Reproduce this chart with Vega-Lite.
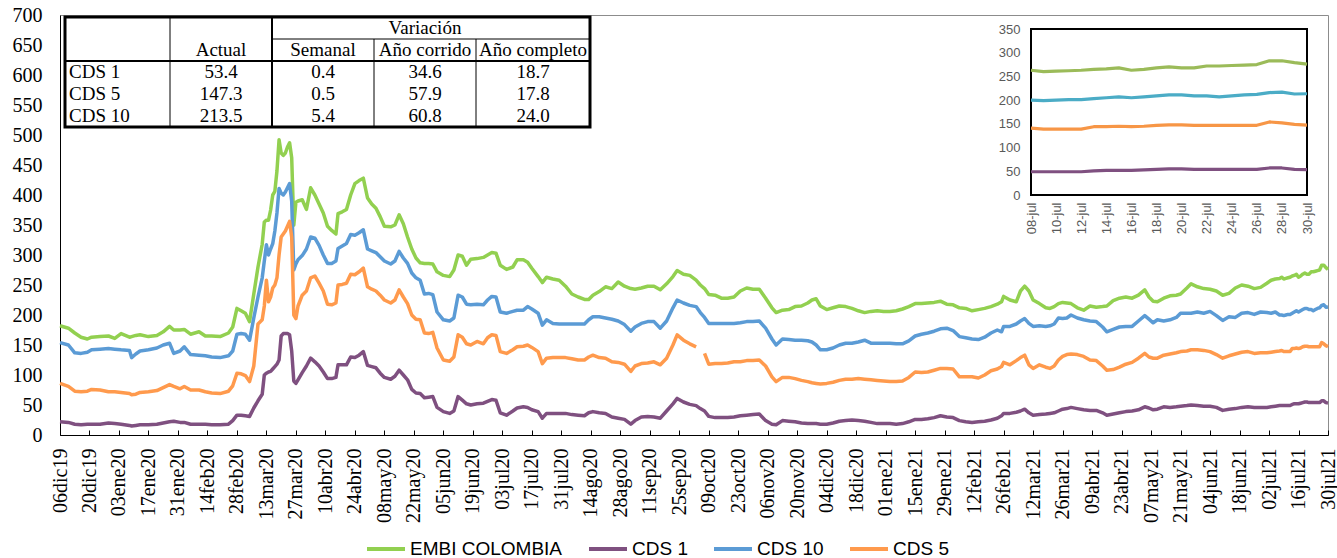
{
  "$schema": "https://vega.github.io/schema/vega-lite/v6.json",
  "autosize": {"type": "none"},
  "width": 1268,
  "height": 420,
  "padding": {"left": 60, "top": 15, "right": 9, "bottom": 123},
  "background": "white",
  "config": {"view": {"stroke": "#8c8c8c", "strokeWidth": 1}},
  "datasets": {
    "series": [
      {"fecha":"2019-12-06","EMBI COLOMBIA":182,"CDS 1":22,"CDS 10":154,"CDS 5":86},
      {"fecha":"2019-12-10","EMBI COLOMBIA":178,"CDS 1":21,"CDS 10":150,"CDS 5":81},
      {"fecha":"2019-12-13","EMBI COLOMBIA":170,"CDS 1":18,"CDS 10":137,"CDS 5":73},
      {"fecha":"2019-12-16","EMBI COLOMBIA":163,"CDS 1":17,"CDS 10":136,"CDS 5":72},
      {"fecha":"2019-12-19","EMBI COLOMBIA":160,"CDS 1":18,"CDS 10":138,"CDS 5":73},
      {"fecha":"2019-12-21","EMBI COLOMBIA":163,"CDS 1":18,"CDS 10":142,"CDS 5":76},
      {"fecha":"2019-12-25","EMBI COLOMBIA":164,"CDS 1":18,"CDS 10":143,"CDS 5":75},
      {"fecha":"2019-12-29","EMBI COLOMBIA":165,"CDS 1":20,"CDS 10":144,"CDS 5":72},
      {"fecha":"2020-01-01","EMBI COLOMBIA":161,"CDS 1":19,"CDS 10":143,"CDS 5":72},
      {"fecha":"2020-01-04","EMBI COLOMBIA":169,"CDS 1":18,"CDS 10":142,"CDS 5":71},
      {"fecha":"2020-01-08","EMBI COLOMBIA":163,"CDS 1":16,"CDS 10":141,"CDS 5":69},
      {"fecha":"2020-01-09","EMBI COLOMBIA":164,"CDS 1":15,"CDS 10":129,"CDS 5":67},
      {"fecha":"2020-01-11","EMBI COLOMBIA":166,"CDS 1":16,"CDS 10":135,"CDS 5":68},
      {"fecha":"2020-01-13","EMBI COLOMBIA":167,"CDS 1":17,"CDS 10":140,"CDS 5":71},
      {"fecha":"2020-01-17","EMBI COLOMBIA":164,"CDS 1":17,"CDS 10":142,"CDS 5":72},
      {"fecha":"2020-01-21","EMBI COLOMBIA":166,"CDS 1":18,"CDS 10":145,"CDS 5":74},
      {"fecha":"2020-01-24","EMBI COLOMBIA":172,"CDS 1":20,"CDS 10":150,"CDS 5":79},
      {"fecha":"2020-01-27","EMBI COLOMBIA":181,"CDS 1":22,"CDS 10":153,"CDS 5":84},
      {"fecha":"2020-01-29","EMBI COLOMBIA":175,"CDS 1":23,"CDS 10":136,"CDS 5":81},
      {"fecha":"2020-02-01","EMBI COLOMBIA":175,"CDS 1":21,"CDS 10":140,"CDS 5":77},
      {"fecha":"2020-02-03","EMBI COLOMBIA":176,"CDS 1":21,"CDS 10":147,"CDS 5":81},
      {"fecha":"2020-02-06","EMBI COLOMBIA":168,"CDS 1":18,"CDS 10":134,"CDS 5":75},
      {"fecha":"2020-02-10","EMBI COLOMBIA":172,"CDS 1":18,"CDS 10":133,"CDS 5":75},
      {"fecha":"2020-02-13","EMBI COLOMBIA":165,"CDS 1":18,"CDS 10":132,"CDS 5":72},
      {"fecha":"2020-02-16","EMBI COLOMBIA":165,"CDS 1":17,"CDS 10":130,"CDS 5":70},
      {"fecha":"2020-02-20","EMBI COLOMBIA":164,"CDS 1":17,"CDS 10":129,"CDS 5":69},
      {"fecha":"2020-02-24","EMBI COLOMBIA":170,"CDS 1":18,"CDS 10":132,"CDS 5":73},
      {"fecha":"2020-02-26","EMBI COLOMBIA":180,"CDS 1":24,"CDS 10":140,"CDS 5":82},
      {"fecha":"2020-02-28","EMBI COLOMBIA":211,"CDS 1":33,"CDS 10":168,"CDS 5":103},
      {"fecha":"2020-03-01","EMBI COLOMBIA":207,"CDS 1":33,"CDS 10":169,"CDS 5":102},
      {"fecha":"2020-03-03","EMBI COLOMBIA":203,"CDS 1":32,"CDS 10":168,"CDS 5":99},
      {"fecha":"2020-03-05","EMBI COLOMBIA":189,"CDS 1":31,"CDS 10":158,"CDS 5":89},
      {"fecha":"2020-03-07","EMBI COLOMBIA":235,"CDS 1":45,"CDS 10":195,"CDS 5":115},
      {"fecha":"2020-03-09","EMBI COLOMBIA":280,"CDS 1":57,"CDS 10":230,"CDS 5":185},
      {"fecha":"2020-03-11","EMBI COLOMBIA":318,"CDS 1":68,"CDS 10":262,"CDS 5":192},
      {"fecha":"2020-03-12","EMBI COLOMBIA":355,"CDS 1":100,"CDS 10":290,"CDS 5":215},
      {"fecha":"2020-03-13","EMBI COLOMBIA":358,"CDS 1":103,"CDS 10":317,"CDS 5":258},
      {"fecha":"2020-03-14","EMBI COLOMBIA":358,"CDS 1":105,"CDS 10":300,"CDS 5":222},
      {"fecha":"2020-03-15","EMBI COLOMBIA":375,"CDS 1":106,"CDS 10":310,"CDS 5":230},
      {"fecha":"2020-03-16","EMBI COLOMBIA":400,"CDS 1":110,"CDS 10":319,"CDS 5":245},
      {"fecha":"2020-03-17","EMBI COLOMBIA":406,"CDS 1":114,"CDS 10":340,"CDS 5":250},
      {"fecha":"2020-03-18","EMBI COLOMBIA":440,"CDS 1":118,"CDS 10":370,"CDS 5":262},
      {"fecha":"2020-03-19","EMBI COLOMBIA":492,"CDS 1":125,"CDS 10":411,"CDS 5":300},
      {"fecha":"2020-03-20","EMBI COLOMBIA":470,"CDS 1":165,"CDS 10":403,"CDS 5":330},
      {"fecha":"2020-03-21","EMBI COLOMBIA":466,"CDS 1":169,"CDS 10":400,"CDS 5":335},
      {"fecha":"2020-03-22","EMBI COLOMBIA":470,"CDS 1":169,"CDS 10":405,"CDS 5":340},
      {"fecha":"2020-03-23","EMBI COLOMBIA":480,"CDS 1":169,"CDS 10":412,"CDS 5":348},
      {"fecha":"2020-03-24","EMBI COLOMBIA":487,"CDS 1":167,"CDS 10":419,"CDS 5":356},
      {"fecha":"2020-03-25","EMBI COLOMBIA":462,"CDS 1":140,"CDS 10":390,"CDS 5":330},
      {"fecha":"2020-03-26","EMBI COLOMBIA":350,"CDS 1":90,"CDS 10":275,"CDS 5":200},
      {"fecha":"2020-03-27","EMBI COLOMBIA":388,"CDS 1":86,"CDS 10":285,"CDS 5":194},
      {"fecha":"2020-03-28","EMBI COLOMBIA":390,"CDS 1":92,"CDS 10":292,"CDS 5":215},
      {"fecha":"2020-03-30","EMBI COLOMBIA":392,"CDS 1":104,"CDS 10":299,"CDS 5":233},
      {"fecha":"2020-04-01","EMBI COLOMBIA":376,"CDS 1":115,"CDS 10":310,"CDS 5":240},
      {"fecha":"2020-04-03","EMBI COLOMBIA":412,"CDS 1":128,"CDS 10":330,"CDS 5":262},
      {"fecha":"2020-04-05","EMBI COLOMBIA":400,"CDS 1":122,"CDS 10":328,"CDS 5":265},
      {"fecha":"2020-04-07","EMBI COLOMBIA":385,"CDS 1":115,"CDS 10":316,"CDS 5":253},
      {"fecha":"2020-04-09","EMBI COLOMBIA":370,"CDS 1":105,"CDS 10":300,"CDS 5":240},
      {"fecha":"2020-04-11","EMBI COLOMBIA":348,"CDS 1":94,"CDS 10":286,"CDS 5":218},
      {"fecha":"2020-04-13","EMBI COLOMBIA":341,"CDS 1":94,"CDS 10":286,"CDS 5":217},
      {"fecha":"2020-04-15","EMBI COLOMBIA":335,"CDS 1":96,"CDS 10":290,"CDS 5":220},
      {"fecha":"2020-04-16","EMBI COLOMBIA":369,"CDS 1":117,"CDS 10":311,"CDS 5":250},
      {"fecha":"2020-04-18","EMBI COLOMBIA":372,"CDS 1":117,"CDS 10":315,"CDS 5":251},
      {"fecha":"2020-04-20","EMBI COLOMBIA":376,"CDS 1":117,"CDS 10":319,"CDS 5":253},
      {"fecha":"2020-04-22","EMBI COLOMBIA":400,"CDS 1":130,"CDS 10":334,"CDS 5":268},
      {"fecha":"2020-04-24","EMBI COLOMBIA":419,"CDS 1":129,"CDS 10":333,"CDS 5":267},
      {"fecha":"2020-04-26","EMBI COLOMBIA":424,"CDS 1":133,"CDS 10":337,"CDS 5":272},
      {"fecha":"2020-04-28","EMBI COLOMBIA":428,"CDS 1":139,"CDS 10":342,"CDS 5":278},
      {"fecha":"2020-04-30","EMBI COLOMBIA":395,"CDS 1":116,"CDS 10":310,"CDS 5":247},
      {"fecha":"2020-05-02","EMBI COLOMBIA":385,"CDS 1":114,"CDS 10":307,"CDS 5":243},
      {"fecha":"2020-05-04","EMBI COLOMBIA":378,"CDS 1":112,"CDS 10":304,"CDS 5":240},
      {"fecha":"2020-05-06","EMBI COLOMBIA":364,"CDS 1":103,"CDS 10":297,"CDS 5":233},
      {"fecha":"2020-05-08","EMBI COLOMBIA":348,"CDS 1":96,"CDS 10":290,"CDS 5":225},
      {"fecha":"2020-05-11","EMBI COLOMBIA":347,"CDS 1":93,"CDS 10":285,"CDS 5":220},
      {"fecha":"2020-05-13","EMBI COLOMBIA":350,"CDS 1":98,"CDS 10":290,"CDS 5":225},
      {"fecha":"2020-05-15","EMBI COLOMBIA":367,"CDS 1":108,"CDS 10":306,"CDS 5":242},
      {"fecha":"2020-05-17","EMBI COLOMBIA":352,"CDS 1":100,"CDS 10":295,"CDS 5":230},
      {"fecha":"2020-05-19","EMBI COLOMBIA":330,"CDS 1":92,"CDS 10":286,"CDS 5":219},
      {"fecha":"2020-05-21","EMBI COLOMBIA":310,"CDS 1":76,"CDS 10":270,"CDS 5":200},
      {"fecha":"2020-05-23","EMBI COLOMBIA":295,"CDS 1":70,"CDS 10":262,"CDS 5":193},
      {"fecha":"2020-05-25","EMBI COLOMBIA":287,"CDS 1":69,"CDS 10":258,"CDS 5":192},
      {"fecha":"2020-05-27","EMBI COLOMBIA":286,"CDS 1":62,"CDS 10":235,"CDS 5":170},
      {"fecha":"2020-05-29","EMBI COLOMBIA":286,"CDS 1":63,"CDS 10":236,"CDS 5":169},
      {"fecha":"2020-05-31","EMBI COLOMBIA":285,"CDS 1":64,"CDS 10":234,"CDS 5":171},
      {"fecha":"2020-06-02","EMBI COLOMBIA":272,"CDS 1":46,"CDS 10":205,"CDS 5":145},
      {"fecha":"2020-06-05","EMBI COLOMBIA":266,"CDS 1":39,"CDS 10":192,"CDS 5":125},
      {"fecha":"2020-06-08","EMBI COLOMBIA":264,"CDS 1":36,"CDS 10":190,"CDS 5":123},
      {"fecha":"2020-06-10","EMBI COLOMBIA":275,"CDS 1":40,"CDS 10":195,"CDS 5":130},
      {"fecha":"2020-06-12","EMBI COLOMBIA":300,"CDS 1":64,"CDS 10":233,"CDS 5":167},
      {"fecha":"2020-06-14","EMBI COLOMBIA":298,"CDS 1":58,"CDS 10":230,"CDS 5":163},
      {"fecha":"2020-06-16","EMBI COLOMBIA":283,"CDS 1":52,"CDS 10":218,"CDS 5":152},
      {"fecha":"2020-06-18","EMBI COLOMBIA":293,"CDS 1":50,"CDS 10":217,"CDS 5":150},
      {"fecha":"2020-06-21","EMBI COLOMBIA":294,"CDS 1":52,"CDS 10":218,"CDS 5":156},
      {"fecha":"2020-06-24","EMBI COLOMBIA":296,"CDS 1":53,"CDS 10":217,"CDS 5":152},
      {"fecha":"2020-06-26","EMBI COLOMBIA":300,"CDS 1":56,"CDS 10":225,"CDS 5":162},
      {"fecha":"2020-06-28","EMBI COLOMBIA":304,"CDS 1":59,"CDS 10":231,"CDS 5":167},
      {"fecha":"2020-06-30","EMBI COLOMBIA":303,"CDS 1":58,"CDS 10":230,"CDS 5":166},
      {"fecha":"2020-07-02","EMBI COLOMBIA":283,"CDS 1":37,"CDS 10":205,"CDS 5":139},
      {"fecha":"2020-07-05","EMBI COLOMBIA":276,"CDS 1":33,"CDS 10":203,"CDS 5":136},
      {"fecha":"2020-07-08","EMBI COLOMBIA":280,"CDS 1":40,"CDS 10":206,"CDS 5":142},
      {"fecha":"2020-07-10","EMBI COLOMBIA":292,"CDS 1":45,"CDS 10":208,"CDS 5":147},
      {"fecha":"2020-07-13","EMBI COLOMBIA":292,"CDS 1":47,"CDS 10":208,"CDS 5":148},
      {"fecha":"2020-07-15","EMBI COLOMBIA":288,"CDS 1":46,"CDS 10":214,"CDS 5":150},
      {"fecha":"2020-07-17","EMBI COLOMBIA":278,"CDS 1":42,"CDS 10":210,"CDS 5":146},
      {"fecha":"2020-07-20","EMBI COLOMBIA":264,"CDS 1":39,"CDS 10":203,"CDS 5":139},
      {"fecha":"2020-07-22","EMBI COLOMBIA":254,"CDS 1":28,"CDS 10":183,"CDS 5":119},
      {"fecha":"2020-07-24","EMBI COLOMBIA":263,"CDS 1":36,"CDS 10":192,"CDS 5":128},
      {"fecha":"2020-07-27","EMBI COLOMBIA":260,"CDS 1":36,"CDS 10":186,"CDS 5":129},
      {"fecha":"2020-07-30","EMBI COLOMBIA":258,"CDS 1":36,"CDS 10":185,"CDS 5":129},
      {"fecha":"2020-08-02","EMBI COLOMBIA":248,"CDS 1":36,"CDS 10":185,"CDS 5":129},
      {"fecha":"2020-08-05","EMBI COLOMBIA":235,"CDS 1":34,"CDS 10":185,"CDS 5":127},
      {"fecha":"2020-08-08","EMBI COLOMBIA":230,"CDS 1":33,"CDS 10":185,"CDS 5":125},
      {"fecha":"2020-08-11","EMBI COLOMBIA":226,"CDS 1":32,"CDS 10":185,"CDS 5":125},
      {"fecha":"2020-08-13","EMBI COLOMBIA":226,"CDS 1":37,"CDS 10":192,"CDS 5":130},
      {"fecha":"2020-08-15","EMBI COLOMBIA":233,"CDS 1":39,"CDS 10":197,"CDS 5":133},
      {"fecha":"2020-08-18","EMBI COLOMBIA":239,"CDS 1":37,"CDS 10":197,"CDS 5":129},
      {"fecha":"2020-08-21","EMBI COLOMBIA":247,"CDS 1":36,"CDS 10":195,"CDS 5":128},
      {"fecha":"2020-08-24","EMBI COLOMBIA":244,"CDS 1":30,"CDS 10":193,"CDS 5":122},
      {"fecha":"2020-08-27","EMBI COLOMBIA":255,"CDS 1":28,"CDS 10":190,"CDS 5":121},
      {"fecha":"2020-08-30","EMBI COLOMBIA":248,"CDS 1":26,"CDS 10":184,"CDS 5":118},
      {"fecha":"2020-09-02","EMBI COLOMBIA":244,"CDS 1":18,"CDS 10":173,"CDS 5":106},
      {"fecha":"2020-09-04","EMBI COLOMBIA":243,"CDS 1":24,"CDS 10":180,"CDS 5":115},
      {"fecha":"2020-09-07","EMBI COLOMBIA":245,"CDS 1":30,"CDS 10":186,"CDS 5":119},
      {"fecha":"2020-09-10","EMBI COLOMBIA":248,"CDS 1":31,"CDS 10":189,"CDS 5":120},
      {"fecha":"2020-09-13","EMBI COLOMBIA":248,"CDS 1":30,"CDS 10":189,"CDS 5":122},
      {"fecha":"2020-09-16","EMBI COLOMBIA":242,"CDS 1":28,"CDS 10":178,"CDS 5":117},
      {"fecha":"2020-09-19","EMBI COLOMBIA":252,"CDS 1":40,"CDS 10":190,"CDS 5":128},
      {"fecha":"2020-09-22","EMBI COLOMBIA":264,"CDS 1":52,"CDS 10":212,"CDS 5":150},
      {"fecha":"2020-09-24","EMBI COLOMBIA":274,"CDS 1":61,"CDS 10":225,"CDS 5":167},
      {"fecha":"2020-09-27","EMBI COLOMBIA":268,"CDS 1":55,"CDS 10":220,"CDS 5":158},
      {"fecha":"2020-09-30","EMBI COLOMBIA":266,"CDS 1":51,"CDS 10":216,"CDS 5":152},
      {"fecha":"2020-10-03","EMBI COLOMBIA":258,"CDS 1":49,"CDS 10":214,"CDS 5":147},
      {"fecha":"2020-10-05","EMBI COLOMBIA":250,"CDS 1":44,"CDS 10":204,"CDS 5":null},
      {"fecha":"2020-10-07","EMBI COLOMBIA":244,"CDS 1":40,"CDS 10":196,"CDS 5":136},
      {"fecha":"2020-10-09","EMBI COLOMBIA":234,"CDS 1":31,"CDS 10":186,"CDS 5":118},
      {"fecha":"2020-10-12","EMBI COLOMBIA":233,"CDS 1":29,"CDS 10":186,"CDS 5":119},
      {"fecha":"2020-10-15","EMBI COLOMBIA":228,"CDS 1":29,"CDS 10":186,"CDS 5":119},
      {"fecha":"2020-10-18","EMBI COLOMBIA":228,"CDS 1":29,"CDS 10":186,"CDS 5":120},
      {"fecha":"2020-10-21","EMBI COLOMBIA":230,"CDS 1":30,"CDS 10":186,"CDS 5":122},
      {"fecha":"2020-10-24","EMBI COLOMBIA":240,"CDS 1":32,"CDS 10":187,"CDS 5":122},
      {"fecha":"2020-10-27","EMBI COLOMBIA":245,"CDS 1":33,"CDS 10":189,"CDS 5":124},
      {"fecha":"2020-10-30","EMBI COLOMBIA":243,"CDS 1":34,"CDS 10":189,"CDS 5":124},
      {"fecha":"2020-11-02","EMBI COLOMBIA":243,"CDS 1":35,"CDS 10":190,"CDS 5":125},
      {"fecha":"2020-11-05","EMBI COLOMBIA":228,"CDS 1":24,"CDS 10":178,"CDS 5":115},
      {"fecha":"2020-11-08","EMBI COLOMBIA":212,"CDS 1":18,"CDS 10":160,"CDS 5":97},
      {"fecha":"2020-11-10","EMBI COLOMBIA":204,"CDS 1":17,"CDS 10":150,"CDS 5":89},
      {"fecha":"2020-11-13","EMBI COLOMBIA":208,"CDS 1":24,"CDS 10":160,"CDS 5":96},
      {"fecha":"2020-11-16","EMBI COLOMBIA":209,"CDS 1":23,"CDS 10":159,"CDS 5":96},
      {"fecha":"2020-11-19","EMBI COLOMBIA":214,"CDS 1":22,"CDS 10":158,"CDS 5":94},
      {"fecha":"2020-11-22","EMBI COLOMBIA":215,"CDS 1":20,"CDS 10":158,"CDS 5":91},
      {"fecha":"2020-11-25","EMBI COLOMBIA":220,"CDS 1":19,"CDS 10":157,"CDS 5":89},
      {"fecha":"2020-11-27","EMBI COLOMBIA":225,"CDS 1":19,"CDS 10":155,"CDS 5":87},
      {"fecha":"2020-11-29","EMBI COLOMBIA":227,"CDS 1":19,"CDS 10":150,"CDS 5":86},
      {"fecha":"2020-12-01","EMBI COLOMBIA":215,"CDS 1":18,"CDS 10":142,"CDS 5":85},
      {"fecha":"2020-12-04","EMBI COLOMBIA":209,"CDS 1":18,"CDS 10":142,"CDS 5":86},
      {"fecha":"2020-12-07","EMBI COLOMBIA":212,"CDS 1":20,"CDS 10":145,"CDS 5":88},
      {"fecha":"2020-12-10","EMBI COLOMBIA":215,"CDS 1":23,"CDS 10":150,"CDS 5":91},
      {"fecha":"2020-12-13","EMBI COLOMBIA":214,"CDS 1":24,"CDS 10":153,"CDS 5":93},
      {"fecha":"2020-12-16","EMBI COLOMBIA":211,"CDS 1":25,"CDS 10":153,"CDS 5":93},
      {"fecha":"2020-12-19","EMBI COLOMBIA":207,"CDS 1":24,"CDS 10":155,"CDS 5":94},
      {"fecha":"2020-12-22","EMBI COLOMBIA":204,"CDS 1":23,"CDS 10":158,"CDS 5":93},
      {"fecha":"2020-12-25","EMBI COLOMBIA":206,"CDS 1":21,"CDS 10":153,"CDS 5":92},
      {"fecha":"2020-12-28","EMBI COLOMBIA":207,"CDS 1":19,"CDS 10":153,"CDS 5":91},
      {"fecha":"2020-12-31","EMBI COLOMBIA":206,"CDS 1":19,"CDS 10":153,"CDS 5":90},
      {"fecha":"2021-01-03","EMBI COLOMBIA":206,"CDS 1":19,"CDS 10":153,"CDS 5":89},
      {"fecha":"2021-01-06","EMBI COLOMBIA":207,"CDS 1":18,"CDS 10":152,"CDS 5":89},
      {"fecha":"2021-01-09","EMBI COLOMBIA":210,"CDS 1":19,"CDS 10":152,"CDS 5":90},
      {"fecha":"2021-01-12","EMBI COLOMBIA":214,"CDS 1":22,"CDS 10":157,"CDS 5":96},
      {"fecha":"2021-01-15","EMBI COLOMBIA":219,"CDS 1":26,"CDS 10":165,"CDS 5":105},
      {"fecha":"2021-01-18","EMBI COLOMBIA":219,"CDS 1":26,"CDS 10":168,"CDS 5":104},
      {"fecha":"2021-01-21","EMBI COLOMBIA":220,"CDS 1":27,"CDS 10":170,"CDS 5":105},
      {"fecha":"2021-01-24","EMBI COLOMBIA":221,"CDS 1":29,"CDS 10":173,"CDS 5":108},
      {"fecha":"2021-01-27","EMBI COLOMBIA":223,"CDS 1":32,"CDS 10":177,"CDS 5":111},
      {"fecha":"2021-01-30","EMBI COLOMBIA":218,"CDS 1":30,"CDS 10":178,"CDS 5":111},
      {"fecha":"2021-02-02","EMBI COLOMBIA":217,"CDS 1":29,"CDS 10":174,"CDS 5":110},
      {"fecha":"2021-02-05","EMBI COLOMBIA":212,"CDS 1":24,"CDS 10":164,"CDS 5":97},
      {"fecha":"2021-02-08","EMBI COLOMBIA":211,"CDS 1":22,"CDS 10":162,"CDS 5":97},
      {"fecha":"2021-02-11","EMBI COLOMBIA":207,"CDS 1":21,"CDS 10":160,"CDS 5":97},
      {"fecha":"2021-02-14","EMBI COLOMBIA":209,"CDS 1":22,"CDS 10":159,"CDS 5":95},
      {"fecha":"2021-02-17","EMBI COLOMBIA":211,"CDS 1":23,"CDS 10":163,"CDS 5":100},
      {"fecha":"2021-02-20","EMBI COLOMBIA":214,"CDS 1":25,"CDS 10":170,"CDS 5":107},
      {"fecha":"2021-02-23","EMBI COLOMBIA":218,"CDS 1":28,"CDS 10":175,"CDS 5":110},
      {"fecha":"2021-02-25","EMBI COLOMBIA":222,"CDS 1":32,"CDS 10":172,"CDS 5":114},
      {"fecha":"2021-02-26","EMBI COLOMBIA":231,"CDS 1":36,"CDS 10":181,"CDS 5":121},
      {"fecha":"2021-03-01","EMBI COLOMBIA":225,"CDS 1":36,"CDS 10":181,"CDS 5":117},
      {"fecha":"2021-03-04","EMBI COLOMBIA":222,"CDS 1":38,"CDS 10":185,"CDS 5":124},
      {"fecha":"2021-03-06","EMBI COLOMBIA":240,"CDS 1":40,"CDS 10":190,"CDS 5":129},
      {"fecha":"2021-03-08","EMBI COLOMBIA":248,"CDS 1":43,"CDS 10":194,"CDS 5":133},
      {"fecha":"2021-03-10","EMBI COLOMBIA":240,"CDS 1":37,"CDS 10":186,"CDS 5":117},
      {"fecha":"2021-03-12","EMBI COLOMBIA":225,"CDS 1":33,"CDS 10":181,"CDS 5":111},
      {"fecha":"2021-03-15","EMBI COLOMBIA":219,"CDS 1":34,"CDS 10":182,"CDS 5":117},
      {"fecha":"2021-03-18","EMBI COLOMBIA":212,"CDS 1":35,"CDS 10":181,"CDS 5":113},
      {"fecha":"2021-03-20","EMBI COLOMBIA":211,"CDS 1":36,"CDS 10":182,"CDS 5":111},
      {"fecha":"2021-03-22","EMBI COLOMBIA":214,"CDS 1":37,"CDS 10":185,"CDS 5":115},
      {"fecha":"2021-03-24","EMBI COLOMBIA":219,"CDS 1":40,"CDS 10":195,"CDS 5":125},
      {"fecha":"2021-03-26","EMBI COLOMBIA":221,"CDS 1":43,"CDS 10":194,"CDS 5":131},
      {"fecha":"2021-03-28","EMBI COLOMBIA":220,"CDS 1":44,"CDS 10":195,"CDS 5":134},
      {"fecha":"2021-03-30","EMBI COLOMBIA":219,"CDS 1":46,"CDS 10":200,"CDS 5":135},
      {"fecha":"2021-04-02","EMBI COLOMBIA":212,"CDS 1":44,"CDS 10":195,"CDS 5":134},
      {"fecha":"2021-04-05","EMBI COLOMBIA":208,"CDS 1":42,"CDS 10":192,"CDS 5":131},
      {"fecha":"2021-04-08","EMBI COLOMBIA":215,"CDS 1":41,"CDS 10":190,"CDS 5":125},
      {"fecha":"2021-04-11","EMBI COLOMBIA":213,"CDS 1":41,"CDS 10":189,"CDS 5":124},
      {"fecha":"2021-04-14","EMBI COLOMBIA":214,"CDS 1":37,"CDS 10":180,"CDS 5":115},
      {"fecha":"2021-04-16","EMBI COLOMBIA":215,"CDS 1":33,"CDS 10":172,"CDS 5":108},
      {"fecha":"2021-04-19","EMBI COLOMBIA":224,"CDS 1":35,"CDS 10":176,"CDS 5":109},
      {"fecha":"2021-04-22","EMBI COLOMBIA":228,"CDS 1":37,"CDS 10":180,"CDS 5":113},
      {"fecha":"2021-04-25","EMBI COLOMBIA":230,"CDS 1":39,"CDS 10":181,"CDS 5":118},
      {"fecha":"2021-04-28","EMBI COLOMBIA":228,"CDS 1":40,"CDS 10":181,"CDS 5":121},
      {"fecha":"2021-05-01","EMBI COLOMBIA":233,"CDS 1":42,"CDS 10":190,"CDS 5":128},
      {"fecha":"2021-05-04","EMBI COLOMBIA":242,"CDS 1":47,"CDS 10":199,"CDS 5":136},
      {"fecha":"2021-05-06","EMBI COLOMBIA":230,"CDS 1":45,"CDS 10":193,"CDS 5":130},
      {"fecha":"2021-05-08","EMBI COLOMBIA":223,"CDS 1":42,"CDS 10":187,"CDS 5":128},
      {"fecha":"2021-05-10","EMBI COLOMBIA":222,"CDS 1":43,"CDS 10":192,"CDS 5":128},
      {"fecha":"2021-05-13","EMBI COLOMBIA":228,"CDS 1":47,"CDS 10":190,"CDS 5":133},
      {"fecha":"2021-05-16","EMBI COLOMBIA":232,"CDS 1":46,"CDS 10":192,"CDS 5":135},
      {"fecha":"2021-05-19","EMBI COLOMBIA":233,"CDS 1":47,"CDS 10":196,"CDS 5":137},
      {"fecha":"2021-05-21","EMBI COLOMBIA":235,"CDS 1":48,"CDS 10":203,"CDS 5":139},
      {"fecha":"2021-05-24","EMBI COLOMBIA":245,"CDS 1":49,"CDS 10":203,"CDS 5":140},
      {"fecha":"2021-05-26","EMBI COLOMBIA":252,"CDS 1":50,"CDS 10":203,"CDS 5":142},
      {"fecha":"2021-05-29","EMBI COLOMBIA":247,"CDS 1":49,"CDS 10":205,"CDS 5":142},
      {"fecha":"2021-06-01","EMBI COLOMBIA":244,"CDS 1":48,"CDS 10":203,"CDS 5":141},
      {"fecha":"2021-06-04","EMBI COLOMBIA":243,"CDS 1":48,"CDS 10":206,"CDS 5":139},
      {"fecha":"2021-06-07","EMBI COLOMBIA":240,"CDS 1":46,"CDS 10":199,"CDS 5":134},
      {"fecha":"2021-06-10","EMBI COLOMBIA":233,"CDS 1":41,"CDS 10":191,"CDS 5":128},
      {"fecha":"2021-06-13","EMBI COLOMBIA":236,"CDS 1":43,"CDS 10":197,"CDS 5":132},
      {"fecha":"2021-06-16","EMBI COLOMBIA":245,"CDS 1":44,"CDS 10":196,"CDS 5":135},
      {"fecha":"2021-06-19","EMBI COLOMBIA":250,"CDS 1":46,"CDS 10":203,"CDS 5":138},
      {"fecha":"2021-06-22","EMBI COLOMBIA":248,"CDS 1":47,"CDS 10":204,"CDS 5":139},
      {"fecha":"2021-06-25","EMBI COLOMBIA":244,"CDS 1":46,"CDS 10":201,"CDS 5":136},
      {"fecha":"2021-06-28","EMBI COLOMBIA":246,"CDS 1":46,"CDS 10":205,"CDS 5":137},
      {"fecha":"2021-07-01","EMBI COLOMBIA":253,"CDS 1":46,"CDS 10":204,"CDS 5":137},
      {"fecha":"2021-07-03","EMBI COLOMBIA":258,"CDS 1":47,"CDS 10":203,"CDS 5":138},
      {"fecha":"2021-07-05","EMBI COLOMBIA":260,"CDS 1":48,"CDS 10":205,"CDS 5":139},
      {"fecha":"2021-07-07","EMBI COLOMBIA":261,"CDS 1":49,"CDS 10":200,"CDS 5":140},
      {"fecha":"2021-07-08","EMBI COLOMBIA":263,"CDS 1":49,"CDS 10":200,"CDS 5":141},
      {"fecha":"2021-07-09","EMBI COLOMBIA":260,"CDS 1":49,"CDS 10":199,"CDS 5":139},
      {"fecha":"2021-07-10","EMBI COLOMBIA":261,"CDS 1":49,"CDS 10":200,"CDS 5":139},
      {"fecha":"2021-07-11","EMBI COLOMBIA":262,"CDS 1":49,"CDS 10":201,"CDS 5":139},
      {"fecha":"2021-07-12","EMBI COLOMBIA":263,"CDS 1":49,"CDS 10":201,"CDS 5":139},
      {"fecha":"2021-07-13","EMBI COLOMBIA":265,"CDS 1":51,"CDS 10":203,"CDS 5":144},
      {"fecha":"2021-07-14","EMBI COLOMBIA":266,"CDS 1":52,"CDS 10":205,"CDS 5":144},
      {"fecha":"2021-07-15","EMBI COLOMBIA":268,"CDS 1":52,"CDS 10":207,"CDS 5":145},
      {"fecha":"2021-07-16","EMBI COLOMBIA":263,"CDS 1":52,"CDS 10":205,"CDS 5":144},
      {"fecha":"2021-07-17","EMBI COLOMBIA":265,"CDS 1":53,"CDS 10":207,"CDS 5":145},
      {"fecha":"2021-07-18","EMBI COLOMBIA":268,"CDS 1":54,"CDS 10":209,"CDS 5":147},
      {"fecha":"2021-07-19","EMBI COLOMBIA":270,"CDS 1":55,"CDS 10":211,"CDS 5":148},
      {"fecha":"2021-07-20","EMBI COLOMBIA":268,"CDS 1":55,"CDS 10":211,"CDS 5":148},
      {"fecha":"2021-07-21","EMBI COLOMBIA":268,"CDS 1":54,"CDS 10":209,"CDS 5":147},
      {"fecha":"2021-07-22","EMBI COLOMBIA":272,"CDS 1":54,"CDS 10":209,"CDS 5":147},
      {"fecha":"2021-07-23","EMBI COLOMBIA":272,"CDS 1":54,"CDS 10":207,"CDS 5":147},
      {"fecha":"2021-07-24","EMBI COLOMBIA":273,"CDS 1":54,"CDS 10":209,"CDS 5":147},
      {"fecha":"2021-07-25","EMBI COLOMBIA":274,"CDS 1":54,"CDS 10":211,"CDS 5":147},
      {"fecha":"2021-07-26","EMBI COLOMBIA":275,"CDS 1":54,"CDS 10":212,"CDS 5":147},
      {"fecha":"2021-07-27","EMBI COLOMBIA":283,"CDS 1":57,"CDS 10":216,"CDS 5":154},
      {"fecha":"2021-07-28","EMBI COLOMBIA":283,"CDS 1":57,"CDS 10":217,"CDS 5":152},
      {"fecha":"2021-07-29","EMBI COLOMBIA":279,"CDS 1":54,"CDS 10":213,"CDS 5":149},
      {"fecha":"2021-07-30","EMBI COLOMBIA":276,"CDS 1":53.4,"CDS 10":213.5,"CDS 5":147.3}
    ],
    "tabla": [
      {"r":0,"c":3,"t":"Variación"},
      {"r":1,"c":1,"t":"Actual"},
      {"r":1,"c":2,"t":"Semanal"},
      {"r":1,"c":3,"t":"Año corrido"},
      {"r":1,"c":4,"t":"Año completo"},
      {"r":2,"c":0,"t":"CDS 1"},
      {"r":2,"c":1,"t":"53.4"},
      {"r":2,"c":2,"t":"0.4"},
      {"r":2,"c":3,"t":"34.6"},
      {"r":2,"c":4,"t":"18.7"},
      {"r":3,"c":0,"t":"CDS 5"},
      {"r":3,"c":1,"t":"147.3"},
      {"r":3,"c":2,"t":"0.5"},
      {"r":3,"c":3,"t":"57.9"},
      {"r":3,"c":4,"t":"17.8"},
      {"r":4,"c":0,"t":"CDS 10"},
      {"r":4,"c":1,"t":"213.5"},
      {"r":4,"c":2,"t":"5.4"},
      {"r":4,"c":3,"t":"60.8"},
      {"r":4,"c":4,"t":"24.0"}
    ]
  },
  "layer": [
    {
      "data": {"name": "series"},
      "transform": [{"fold": ["EMBI COLOMBIA", "CDS 1", "CDS 10", "CDS 5"], "as": ["serie", "valor"]}],
      "mark": {"type": "line", "strokeWidth": 3.5, "strokeJoin": "round", "invalid": "break-paths-show-domains"},
      "encoding": {
        "x": {
          "field": "fecha", "type": "temporal",
          "scale": {"type": "utc", "domain": [{"year":2019,"month":12,"date":6,"utc":true}, {"year":2021,"month":7,"date":30,"utc":true}]},
          "axis": {
            "title": null, "grid": false,
            "values": [
              {"year":2019,"month":12,"date":6,"utc":true},{"year":2019,"month":12,"date":20,"utc":true},
              {"year":2020,"month":1,"date":3,"utc":true},{"year":2020,"month":1,"date":17,"utc":true},
              {"year":2020,"month":1,"date":31,"utc":true},{"year":2020,"month":2,"date":14,"utc":true},
              {"year":2020,"month":2,"date":28,"utc":true},{"year":2020,"month":3,"date":13,"utc":true},
              {"year":2020,"month":3,"date":27,"utc":true},{"year":2020,"month":4,"date":10,"utc":true},
              {"year":2020,"month":4,"date":24,"utc":true},{"year":2020,"month":5,"date":8,"utc":true},
              {"year":2020,"month":5,"date":22,"utc":true},{"year":2020,"month":6,"date":5,"utc":true},
              {"year":2020,"month":6,"date":19,"utc":true},{"year":2020,"month":7,"date":3,"utc":true},
              {"year":2020,"month":7,"date":17,"utc":true},{"year":2020,"month":7,"date":31,"utc":true},
              {"year":2020,"month":8,"date":14,"utc":true},{"year":2020,"month":8,"date":28,"utc":true},
              {"year":2020,"month":9,"date":11,"utc":true},{"year":2020,"month":9,"date":25,"utc":true},
              {"year":2020,"month":10,"date":9,"utc":true},{"year":2020,"month":10,"date":23,"utc":true},
              {"year":2020,"month":11,"date":6,"utc":true},{"year":2020,"month":11,"date":20,"utc":true},
              {"year":2020,"month":12,"date":4,"utc":true},{"year":2020,"month":12,"date":18,"utc":true},
              {"year":2021,"month":1,"date":1,"utc":true},{"year":2021,"month":1,"date":15,"utc":true},
              {"year":2021,"month":1,"date":29,"utc":true},{"year":2021,"month":2,"date":12,"utc":true},
              {"year":2021,"month":2,"date":26,"utc":true},{"year":2021,"month":3,"date":12,"utc":true},
              {"year":2021,"month":3,"date":26,"utc":true},{"year":2021,"month":4,"date":9,"utc":true},
              {"year":2021,"month":4,"date":23,"utc":true},{"year":2021,"month":5,"date":7,"utc":true},
              {"year":2021,"month":5,"date":21,"utc":true},{"year":2021,"month":6,"date":4,"utc":true},
              {"year":2021,"month":6,"date":18,"utc":true},{"year":2021,"month":7,"date":2,"utc":true},
              {"year":2021,"month":7,"date":16,"utc":true},{"year":2021,"month":7,"date":30,"utc":true}
            ],
            "labelExpr": "utcFormat(datum.value, '%d') + ['ene','feb','mar','abr','may','jun','jul','ago','sep','oct','nov','dic'][utcmonth(datum.value)] + utcFormat(datum.value, '%y')",
            "labelAngle": 270,
            "labelFont": "Liberation Serif", "labelFontSize": 20, "labelColor": "black",
            "labelOverlap": false, "labelBound": false, "labelFlush": false,
            "domainColor": "black", "domainWidth": 1,
            "ticks": true, "tickColor": "black", "tickSize": -5, "tickWidth": 1,
            "labelPadding": 18
          }
        },
        "y": {
          "field": "valor", "type": "quantitative",
          "scale": {"domain": [0, 700], "nice": false},
          "axis": {
            "title": null, "grid": false,
            "values": [0, 50, 100, 150, 200, 250, 300, 350, 400, 450, 500, 550, 600, 650, 700],
            "labelFont": "Liberation Serif", "labelFontSize": 20, "labelColor": "black",
            "domainColor": "black", "domainWidth": 1,
            "ticks": false, "tickSize": 0, "labelPadding": 18, "labelBound": false, "labelFlush": false
          }
        },
        "color": {
          "field": "serie", "type": "nominal",
          "scale": {"domain": ["EMBI COLOMBIA", "CDS 1", "CDS 10", "CDS 5"], "range": ["#92D050", "#7F5080", "#5B9BD5", "#FF9A4D"]},
          "legend": {
            "title": null, "orient": "none", "legendX": 305, "legendY": 513,
            "direction": "horizontal", "columns": 4,
            "symbolType": "stroke", "symbolSize": 1444, "symbolStrokeWidth": 4, "symbolOpacity": 1,
            "labelFont": "Liberation Sans", "labelFontSize": 19, "labelColor": "black",
            "labelOffset": 3, "columnPadding": 18
          }
        }
      }
    },
    {
      "data": {"name": "series"},
      "transform": [{"filter": {"field": "fecha", "gte": {"year":2021,"month":7,"date":8,"utc":true}}}],
      "layer": [
        {
          "mark": {"type": "rect", "filled": false, "stroke": "black", "strokeWidth": 2},
          "data": {"values": [{}]},
          "encoding": {
            "x": {"datum": {"year":2021,"month":7,"date":8,"utc":true}, "type": "temporal",
                  "scale": {"type": "utc", "domain": [{"year":2021,"month":7,"date":8,"utc":true}, {"year":2021,"month":7,"date":30,"utc":true}], "range": [971, 1247]}},
            "x2": {"datum": {"year":2021,"month":7,"date":30,"utc":true}},
            "y": {"datum": 0, "type": "quantitative", "scale": {"domain": [0, 350], "range": [180, 14], "nice": false}},
            "y2": {"datum": 350}
          }
        },
        {
          "mark": {"type": "line", "strokeWidth": 3.2, "strokeJoin": "round", "color": "#9BBB59"},
          "encoding": {
            "x": {
              "field": "fecha", "type": "temporal",
              "scale": {"type": "utc", "domain": [{"year":2021,"month":7,"date":8,"utc":true}, {"year":2021,"month":7,"date":30,"utc":true}], "range": [971, 1247]},
              "axis": {
                "orient": "bottom", "offset": -240, "title": null, "grid": false, "domain": false,
                "ticks": false, "tickSize": 0,
                "values": [
                  {"year":2021,"month":7,"date":8,"utc":true},{"year":2021,"month":7,"date":10,"utc":true},
                  {"year":2021,"month":7,"date":12,"utc":true},{"year":2021,"month":7,"date":14,"utc":true},
                  {"year":2021,"month":7,"date":16,"utc":true},{"year":2021,"month":7,"date":18,"utc":true},
                  {"year":2021,"month":7,"date":20,"utc":true},{"year":2021,"month":7,"date":22,"utc":true},
                  {"year":2021,"month":7,"date":24,"utc":true},{"year":2021,"month":7,"date":26,"utc":true},
                  {"year":2021,"month":7,"date":28,"utc":true},{"year":2021,"month":7,"date":30,"utc":true}
                ],
                "labelExpr": "utcFormat(datum.value, '%d') + '-jul'",
                "labelAngle": 270, "labelFont": "Liberation Sans", "labelFontSize": 13, "labelColor": "#595959",
                "labelPadding": 7, "labelOverlap": false, "labelBound": false, "labelFlush": false
              }
            },
            "y": {
              "field": "EMBI COLOMBIA", "type": "quantitative",
              "scale": {"domain": [0, 350], "range": [180, 14], "nice": false},
              "axis": {
                "orient": "left", "offset": -971, "title": null, "grid": false, "domain": false,
                "ticks": false, "tickSize": 0,
                "values": [0, 50, 100, 150, 200, 250, 300, 350],
                "labelFont": "Liberation Sans", "labelFontSize": 13, "labelColor": "#595959",
                "labelPadding": 11, "labelBound": false, "labelFlush": false
              }
            }
          }
        },
        {
          "mark": {"type": "line", "strokeWidth": 3.2, "strokeJoin": "round", "color": "#4BACC6"},
          "encoding": {
            "x": {"field": "fecha", "type": "temporal"},
            "y": {"field": "CDS 10", "type": "quantitative"}
          }
        },
        {
          "mark": {"type": "line", "strokeWidth": 3.2, "strokeJoin": "round", "color": "#F79646"},
          "encoding": {
            "x": {"field": "fecha", "type": "temporal"},
            "y": {"field": "CDS 5", "type": "quantitative"}
          }
        },
        {
          "mark": {"type": "line", "strokeWidth": 3.2, "strokeJoin": "round", "color": "#7F5080"},
          "encoding": {
            "x": {"field": "fecha", "type": "temporal"},
            "y": {"field": "CDS 1", "type": "quantitative"}
          }
        }
      ]
    },
    {
      "data": {"values": [{}]},
      "layer": [
        {
          "mark": {"type": "rect", "fill": "white", "stroke": "black", "strokeWidth": 3},
          "encoding": {
            "x": {"datum": -0.5, "type": "quantitative", "axis": null, "scale": {"domain": [-0.5, 0.5, 1.5, 2.5, 3.5, 4.5], "range": [5, 110, 212, 314, 416, 530], "zero": false, "nice": false}},
            "x2": {"datum": 4.5},
            "y": {"datum": -0.5, "type": "quantitative", "axis": null, "scale": {"domain": [-0.5, 0.5, 1.5, 2.5, 3.5, 4.5], "range": [2, 24, 46, 68, 90, 112], "zero": false, "nice": false}},
            "y2": {"datum": 4.5}
          }
        },
        {
          "mark": {"type": "rule", "color": "black", "strokeWidth": 1},
          "encoding": {
            "x": {"datum": 0.5, "type": "quantitative", "axis": null, "scale": {"domain": [-0.5, 0.5, 1.5, 2.5, 3.5, 4.5], "range": [5, 110, 212, 314, 416, 530], "zero": false, "nice": false}},
            "y": {"datum": -0.5, "type": "quantitative", "axis": null, "scale": {"domain": [-0.5, 0.5, 1.5, 2.5, 3.5, 4.5], "range": [2, 24, 46, 68, 90, 112], "zero": false, "nice": false}},
            "y2": {"datum": 4.5}
          }
        },
        {
          "mark": {"type": "rule", "color": "black", "strokeWidth": 2},
          "encoding": {
            "x": {"datum": 1.5, "type": "quantitative", "axis": null, "scale": {"domain": [-0.5, 0.5, 1.5, 2.5, 3.5, 4.5], "range": [5, 110, 212, 314, 416, 530], "zero": false, "nice": false}},
            "y": {"datum": -0.5, "type": "quantitative", "axis": null, "scale": {"domain": [-0.5, 0.5, 1.5, 2.5, 3.5, 4.5], "range": [2, 24, 46, 68, 90, 112], "zero": false, "nice": false}},
            "y2": {"datum": 4.5}
          }
        },
        {
          "mark": {"type": "rule", "color": "black", "strokeWidth": 1},
          "encoding": {
            "x": {"datum": 2.5, "type": "quantitative", "axis": null, "scale": {"domain": [-0.5, 0.5, 1.5, 2.5, 3.5, 4.5], "range": [5, 110, 212, 314, 416, 530], "zero": false, "nice": false}},
            "y": {"datum": 0.5, "type": "quantitative", "axis": null, "scale": {"domain": [-0.5, 0.5, 1.5, 2.5, 3.5, 4.5], "range": [2, 24, 46, 68, 90, 112], "zero": false, "nice": false}},
            "y2": {"datum": 4.5}
          }
        },
        {
          "mark": {"type": "rule", "color": "black", "strokeWidth": 1},
          "encoding": {
            "x": {"datum": 3.5, "type": "quantitative", "axis": null, "scale": {"domain": [-0.5, 0.5, 1.5, 2.5, 3.5, 4.5], "range": [5, 110, 212, 314, 416, 530], "zero": false, "nice": false}},
            "y": {"datum": 0.5, "type": "quantitative", "axis": null, "scale": {"domain": [-0.5, 0.5, 1.5, 2.5, 3.5, 4.5], "range": [2, 24, 46, 68, 90, 112], "zero": false, "nice": false}},
            "y2": {"datum": 4.5}
          }
        },
        {
          "mark": {"type": "rule", "color": "black", "strokeWidth": 1},
          "encoding": {
            "x": {"datum": 1.5, "type": "quantitative", "axis": null, "scale": {"domain": [-0.5, 0.5, 1.5, 2.5, 3.5, 4.5], "range": [5, 110, 212, 314, 416, 530], "zero": false, "nice": false}},
            "x2": {"datum": 4.5},
            "y": {"datum": 0.5, "type": "quantitative", "axis": null, "scale": {"domain": [-0.5, 0.5, 1.5, 2.5, 3.5, 4.5], "range": [2, 24, 46, 68, 90, 112], "zero": false, "nice": false}}
          }
        },
        {
          "mark": {"type": "rule", "color": "black", "strokeWidth": 2},
          "encoding": {
            "x": {"datum": -0.5, "type": "quantitative", "axis": null, "scale": {"domain": [-0.5, 0.5, 1.5, 2.5, 3.5, 4.5], "range": [5, 110, 212, 314, 416, 530], "zero": false, "nice": false}},
            "x2": {"datum": 4.5},
            "y": {"datum": 1.5, "type": "quantitative", "axis": null, "scale": {"domain": [-0.5, 0.5, 1.5, 2.5, 3.5, 4.5], "range": [2, 24, 46, 68, 90, 112], "zero": false, "nice": false}}
          }
        },
        {
          "data": {"name": "tabla"},
          "transform": [{"filter": "datum.c > 0"}],
          "mark": {"type": "text", "font": "Liberation Serif", "fontSize": 19, "color": "black", "align": "center", "baseline": "middle"},
          "encoding": {
            "x": {"field": "c", "type": "quantitative", "axis": null, "scale": {"domain": [-0.5, 0.5, 1.5, 2.5, 3.5, 4.5], "range": [5, 110, 212, 314, 416, 530], "zero": false, "nice": false}},
            "y": {"field": "r", "type": "quantitative", "axis": null, "scale": {"domain": [-0.5, 0.5, 1.5, 2.5, 3.5, 4.5], "range": [2, 24, 46, 68, 90, 112], "zero": false, "nice": false}},
            "text": {"field": "t", "type": "nominal"}
          }
        },
        {
          "data": {"name": "tabla"},
          "transform": [{"filter": "datum.c == 0"}],
          "mark": {"type": "text", "font": "Liberation Serif", "fontSize": 19, "color": "black", "align": "left", "baseline": "middle", "dx": 4},
          "encoding": {
            "x": {"datum": -0.5, "type": "quantitative", "axis": null, "scale": {"domain": [-0.5, 0.5, 1.5, 2.5, 3.5, 4.5], "range": [5, 110, 212, 314, 416, 530], "zero": false, "nice": false}},
            "y": {"field": "r", "type": "quantitative", "axis": null, "scale": {"domain": [-0.5, 0.5, 1.5, 2.5, 3.5, 4.5], "range": [2, 24, 46, 68, 90, 112], "zero": false, "nice": false}},
            "text": {"field": "t", "type": "nominal"}
          }
        }
      ]
    }
  ],
  "resolve": {
    "scale": {"x": "independent", "y": "independent"},
    "axis": {"x": "independent", "y": "independent"}
  }
}
